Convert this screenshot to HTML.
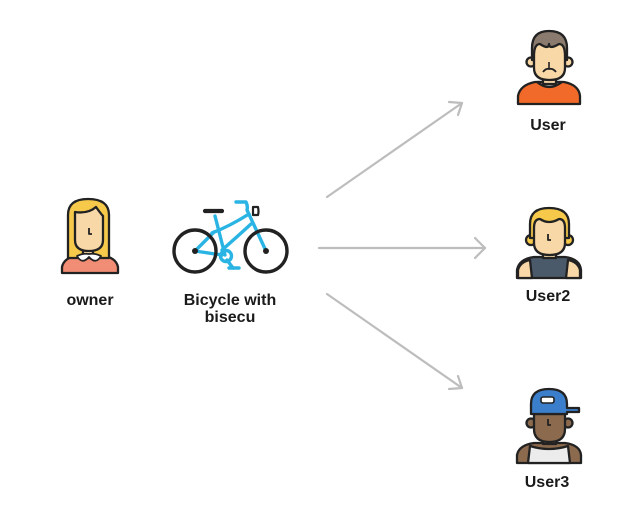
<!DOCTYPE html>
<html><head><meta charset="utf-8"><style>
html,body{margin:0;padding:0;background:#fff;}
svg{display:block;}
text{font-family:"Liberation Sans",Arial,sans-serif;font-weight:bold;font-size:16px;fill:#1a1a1a;text-anchor:middle;}
</style></head><body>
<svg width="640" height="524" viewBox="0 0 640 524" xmlns="http://www.w3.org/2000/svg">
<!-- arrows -->
<g stroke="#bdbdbd" stroke-width="2.2" fill="none" stroke-linecap="round" stroke-linejoin="round">
  <line x1="327" y1="197" x2="462" y2="103"/>
  <polyline points="449,102 462,103 458,115"/>
  <line x1="319" y1="248" x2="485" y2="248"/>
  <polyline points="475,238 485,248 475,258"/>
  <line x1="327" y1="294" x2="462" y2="388"/>
  <polyline points="458,376 462,388 449,389"/>
</g>

<!-- owner -->
<g stroke="#222" stroke-width="2.3" stroke-linejoin="round">
  <path d="M62,273 L62,267 Q64,257 80,255 L100,255 Q116,257 118,267 L118,273 Z" fill="#f08d74"/>
  <path d="M68,258 L68,215 Q68,199 88,199 Q109,199 109,215 L109,258 Z" fill="#f7c94a"/>
  <path d="M83,244 L83,256 L93,256 L93,244 Z" fill="#f9d8a8"/>
  <path d="M75,212 Q88,214 96,207 Q101,214 103,216 L103,240 Q103,251 89,251 Q75,251 75,240 Z" fill="#f9d8a8"/>
  <path d="M77,256 Q82,265 89,257 Q96,265 101,256 Q95,253 89,254 Q83,253 77,256 Z" fill="#fff" stroke-width="1.8"/>
  <path d="M89,228 L89,234 L92,234" fill="none" stroke-width="1.8"/>
</g>
<text x="90" y="305">owner</text>

<!-- bicycle -->
<g fill="none" stroke-linecap="round" stroke-linejoin="round">
  <g stroke="#2ab4e4" stroke-width="3.4">
    <line x1="195" y1="251" x2="214" y2="232"/>
    <line x1="195" y1="251" x2="222" y2="255"/>
    <line x1="215" y1="216" x2="225" y2="255"/>
    <path d="M212,233 Q230,226 249,214"/>
    <path d="M222,250 Q238,236 251,224"/>
    <path d="M236,202 L246,202 Q248,206 247,210 L266,251"/>
    <circle cx="226" cy="256" r="5.5"/>
    <line x1="227" y1="260" x2="233" y2="268"/>
    <line x1="229" y1="268" x2="239" y2="268"/>
  </g>
  <g stroke="#222" stroke-width="3.4">
    <circle cx="195" cy="251" r="21"/>
    <circle cx="266" cy="251" r="21"/>
    <line x1="205" y1="211" x2="222" y2="211" stroke-width="4.2"/>
    <path d="M253,207 L258,207 Q259,212 258,215 L253,215 Z" stroke-width="2.2"/>
  </g>
  <circle cx="195" cy="251" r="3" fill="#222"/>
  <circle cx="266" cy="251" r="3" fill="#222"/>
</g>
<text x="230" y="305">Bicycle with</text>
<text x="230" y="322">bisecu</text>

<!-- User -->
<g stroke="#222" stroke-width="2.3" stroke-linejoin="round">
  <path d="M518,104 L518,96 Q520,85 535,82 L564,82 Q579,85 580,96 L580,104 Z" fill="#f26a2a"/>
  <path d="M537,82 Q549,92 562,82 Z" fill="#b8bcc0"/>
  <rect x="543" y="74" width="13" height="10" fill="#f9d8a8"/>
  <circle cx="531" cy="62" r="4.5" fill="#f9d8a8"/>
  <circle cx="568" cy="62" r="4.5" fill="#f9d8a8"/>
  <path d="M532,60 L532,48 Q532,31 549,31 Q567,31 567,48 L567,60 Z" fill="#8b7b6e"/>
  <path d="M534,56 Q534,44 540,44 Q549,50 549,44 Q549,50 559,44 Q565,44 565,56 L565,68 Q565,80 549.5,80 Q534,80 534,68 Z" fill="#f9d8a8"/>
  <path d="M543,72 Q546,68 549,69 Q553,68 556,72" fill="none" stroke-width="1.8"/>
  <path d="M549,62 L549,69" fill="none" stroke-width="1.6"/>
</g>
<text x="548" y="130">User</text>

<!-- User2 -->
<g stroke="#222" stroke-width="2.3" stroke-linejoin="round">
  <path d="M517,278 L517,270 Q519,259 534,257 L565,257 Q580,259 581,270 L581,278 Z" fill="#4a5a6a"/>
  <path d="M518,270 Q520,262 530,260 L532,278 L518,278 Z" fill="#f9d8a8"/>
  <path d="M580,270 Q578,262 568,260 L566,278 L580,278 Z" fill="#f9d8a8"/>
  <rect x="543" y="248" width="13" height="10" fill="#f9d8a8"/>
  <circle cx="531" cy="240" r="5" fill="#f7c94a"/>
  <circle cx="568" cy="240" r="5" fill="#f7c94a"/>
  <path d="M530,238 L530,224 Q530,208 549,208 Q569,208 569,224 L569,238 Z" fill="#f7c94a"/>
  <path d="M534,228 Q534,219 540,219 Q549,225 559,219 Q565,219 565,228 L565,243 Q565,255 549.5,255 Q534,255 534,243 Z" fill="#f9d8a8"/>
  <path d="M548,234 L548,240 L551,240" fill="none" stroke-width="1.8"/>
</g>
<text x="548" y="301">User2</text>

<!-- User3 -->
<g stroke="#222" stroke-width="2.3" stroke-linejoin="round">
  <path d="M517,463 L517,455 Q519,445 534,443 L565,443 Q580,445 581,455 L581,463 Z" fill="#8b6a4e"/>
  <path d="M528,463 L530,446 Q549,452 568,446 L570,463 Z" fill="#ececec"/>
  <rect x="543" y="434" width="13" height="10" fill="#8b6a4e"/>
  <circle cx="531" cy="423" r="4.5" fill="#8b6a4e"/>
  <circle cx="568" cy="423" r="4.5" fill="#8b6a4e"/>
  <path d="M534,414 L565,414 L565,429 Q565,442 549.5,442 Q534,442 534,429 Z" fill="#8b6a4e"/>
  <path d="M531,414 L531,404 Q531,389 549,389 Q567,389 567,404 L567,408 L579,408 L579,412 L567,412 L567,414 Z" fill="#3b7ecb"/>
  <rect x="541" y="397" width="13" height="6" rx="2" fill="#fff" stroke-width="1.6"/>
  <path d="M548,419 L548,425 L551,425" fill="none" stroke-width="1.8"/>
</g>
<text x="547" y="487">User3</text>
</svg>
</body></html>
